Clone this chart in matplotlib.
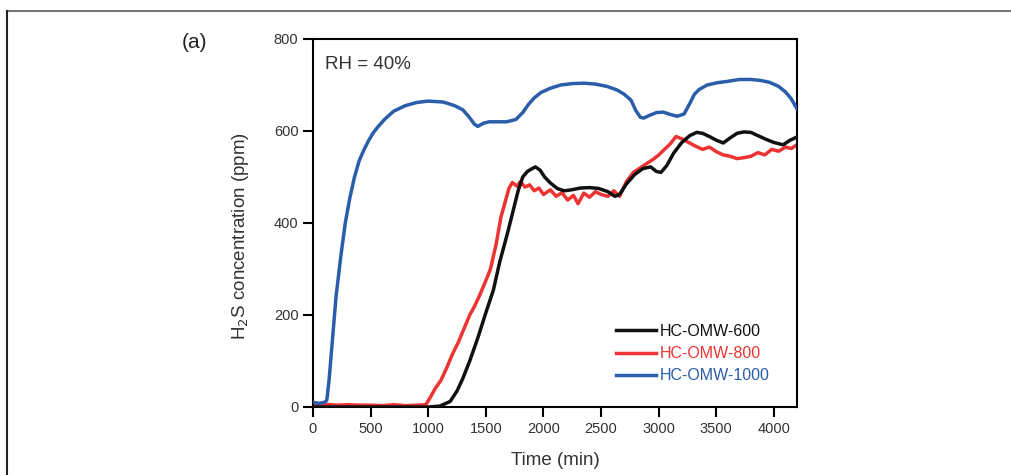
"""
H2S breakthrough curves at RH = 40% for the three HC-OMW carbons.
"""

# Imports - general
import numpy as np
import matplotlib.pyplot as plt
from matplotlib.lines import Line2D

# settings
plt.rcParams['font.family'] = ['Liberation Sans', 'DejaVu Sans']

# data
time_600 = [0, 500, 1000, 1100, 1190, 1250, 1300, 1360, 1430, 1500, 1565, 1620, 1690,
            1740, 1780, 1820, 1860, 1900, 1930, 1970, 2010, 2060, 2120, 2180, 2240,
            2320, 2400, 2480, 2560, 2620, 2660, 2720, 2790, 2860, 2930, 2980, 3020,
            3070, 3130, 3200, 3270, 3330, 3380, 3440, 3500, 3560, 3620, 3680, 3740,
            3800, 3860, 3930, 4000, 4080, 4140, 4200]
conc_600 = [0, 0, 0, 2, 12, 35, 62, 100, 150, 205, 254, 315, 380,
            430, 470, 500, 512, 518, 522, 515, 500, 487, 475, 470, 472,
            476, 477, 475, 468, 458, 462, 485, 505, 518, 522, 512, 510,
            525, 552, 575, 590, 597, 595, 588, 580, 574, 585, 595, 598,
            597, 590, 582, 575, 570, 580, 587]

time_800 = [0, 100, 200, 300, 400, 500, 600, 700, 800, 900, 980, 1020, 1060, 1110,
            1160, 1210, 1260, 1310, 1360, 1400, 1450, 1500, 1540, 1590, 1630, 1670,
            1700, 1730, 1770, 1800, 1840, 1880, 1920, 1960, 2000, 2060, 2110, 2160,
            2210, 2260, 2300, 2350, 2400, 2450, 2500, 2560, 2610, 2660, 2720, 2780,
            2840, 2900, 2950, 3000, 3050, 3100, 3150, 3200, 3260, 3320, 3380, 3440,
            3500, 3560, 3620, 3680, 3740, 3800, 3860, 3920, 3980, 4040, 4100, 4150, 4200]
conc_800 = [5, 6, 4, 5, 4, 4, 3, 5, 3, 4, 5, 22, 40, 58,
            85, 115, 140, 170, 200, 218, 245, 275, 300, 355, 412, 448,
            475, 488, 480, 490, 478, 483, 470, 476, 462, 472, 458, 466,
            450, 460, 442, 465, 456, 468, 462, 458, 470, 458, 490, 510,
            520, 530, 538, 548, 560, 572, 588, 583, 575, 567, 560, 565,
            555, 548, 545, 540, 542, 545, 553, 548, 560, 556, 565, 562, 570]

time_1000 = [0, 50, 100, 120, 140, 170, 200, 240, 280, 320, 360, 400, 440, 480,
             520, 560, 620, 700, 800, 900, 1000, 1130, 1230, 1300, 1350, 1400,
             1430, 1480, 1530, 1600, 1680, 1760, 1820, 1870, 1920, 1980, 2060,
             2150, 2250, 2350, 2450, 2550, 2640, 2700, 2760, 2800, 2840, 2870,
             2920, 2980, 3040, 3100, 3160, 3220, 3270, 3310, 3350, 3420, 3510,
             3600, 3700, 3800, 3880, 3960, 4040, 4100, 4150, 4200]
conc_1000 = [10, 8, 10, 15, 60, 150, 240, 325, 400, 455, 500, 535, 558, 578,
             595, 608, 625, 643, 655, 662, 665, 663, 655, 646, 632, 615,
             610, 617, 620, 620, 620, 625, 640, 658, 672, 684, 693,
             700, 703, 704, 702, 697, 689, 680, 667, 645, 630, 628,
             634, 640, 641, 636, 632, 637, 660, 680, 690, 700, 705,
             708, 712, 712, 710, 706, 697, 685, 670, 648]

labels = ['HC-OMW-600', 'HC-OMW-800', 'HC-OMW-1000']
colors = ['#111111', '#ee3333', '#2a5daa']


def main():
    fig = plt.figure(figsize=(10.12, 4.75), dpi=100)
    ax = fig.add_axes([313 / 1012, 1 - 407 / 475, 484 / 1012, 368 / 475])

    # plot curves
    ax.plot(time_600, conc_600, color=colors[0], lw=2.5, zorder=3)
    ax.plot(time_800, conc_800, color=colors[1], lw=2.5, zorder=2)
    ax.plot(time_1000, conc_1000, color=colors[2], lw=2.5, zorder=4)

    # axes
    ax.set_xlim(0, 4200)
    ax.set_ylim(0, 800)
    ax.set_xticks(np.arange(0, 4001, 500))
    ax.set_yticks(np.arange(0, 801, 200))
    ax.tick_params(direction='out', length=7, width=1.5, labelsize=10.5,
                   labelcolor='#333333', top=False, right=False)
    for spine in ax.spines.values():
        spine.set_linewidth(1.5)
    ax.set_xlabel('Time (min)', fontsize=13.5, color='#333333', labelpad=12)
    ax.set_ylabel('H$_2$S concentration (ppm)', fontsize=13.5, color='#333333')
    ax.yaxis.set_label_coords(-0.128, 0.465)
    ax.text(0.025, 0.955, 'RH = 40%', transform=ax.transAxes, fontsize=13.5,
            color='#333333', va='top')

    # legend with coloured labels
    handles = [Line2D([], [], color=c, lw=2.5) for c in colors]
    leg = ax.legend(handles, labels, loc='lower right', bbox_to_anchor=(0.973, 0.025),
                    frameon=False, fontsize=11.5, handlelength=2.5,
                    handletextpad=0.25, labelspacing=0.45)
    for txt, c in zip(leg.get_texts(), colors):
        txt.set_color(c)

    # panel label and frame
    fig.text(182 / 1012, 1 - 42 / 475, '(a)', fontsize=15, color='#222222',
             va='center')
    fig.add_artist(Line2D([7 / 1012, 1], [1 - 11 / 475, 1 - 11 / 475],
                          color='#777777', lw=1.5))
    fig.add_artist(Line2D([7 / 1012, 7 / 1012], [0, 1 - 11 / 475],
                          color='#222222', lw=1.5))

    fig.savefig('out.png', dpi=100)


if __name__ == "__main__":
    main()
